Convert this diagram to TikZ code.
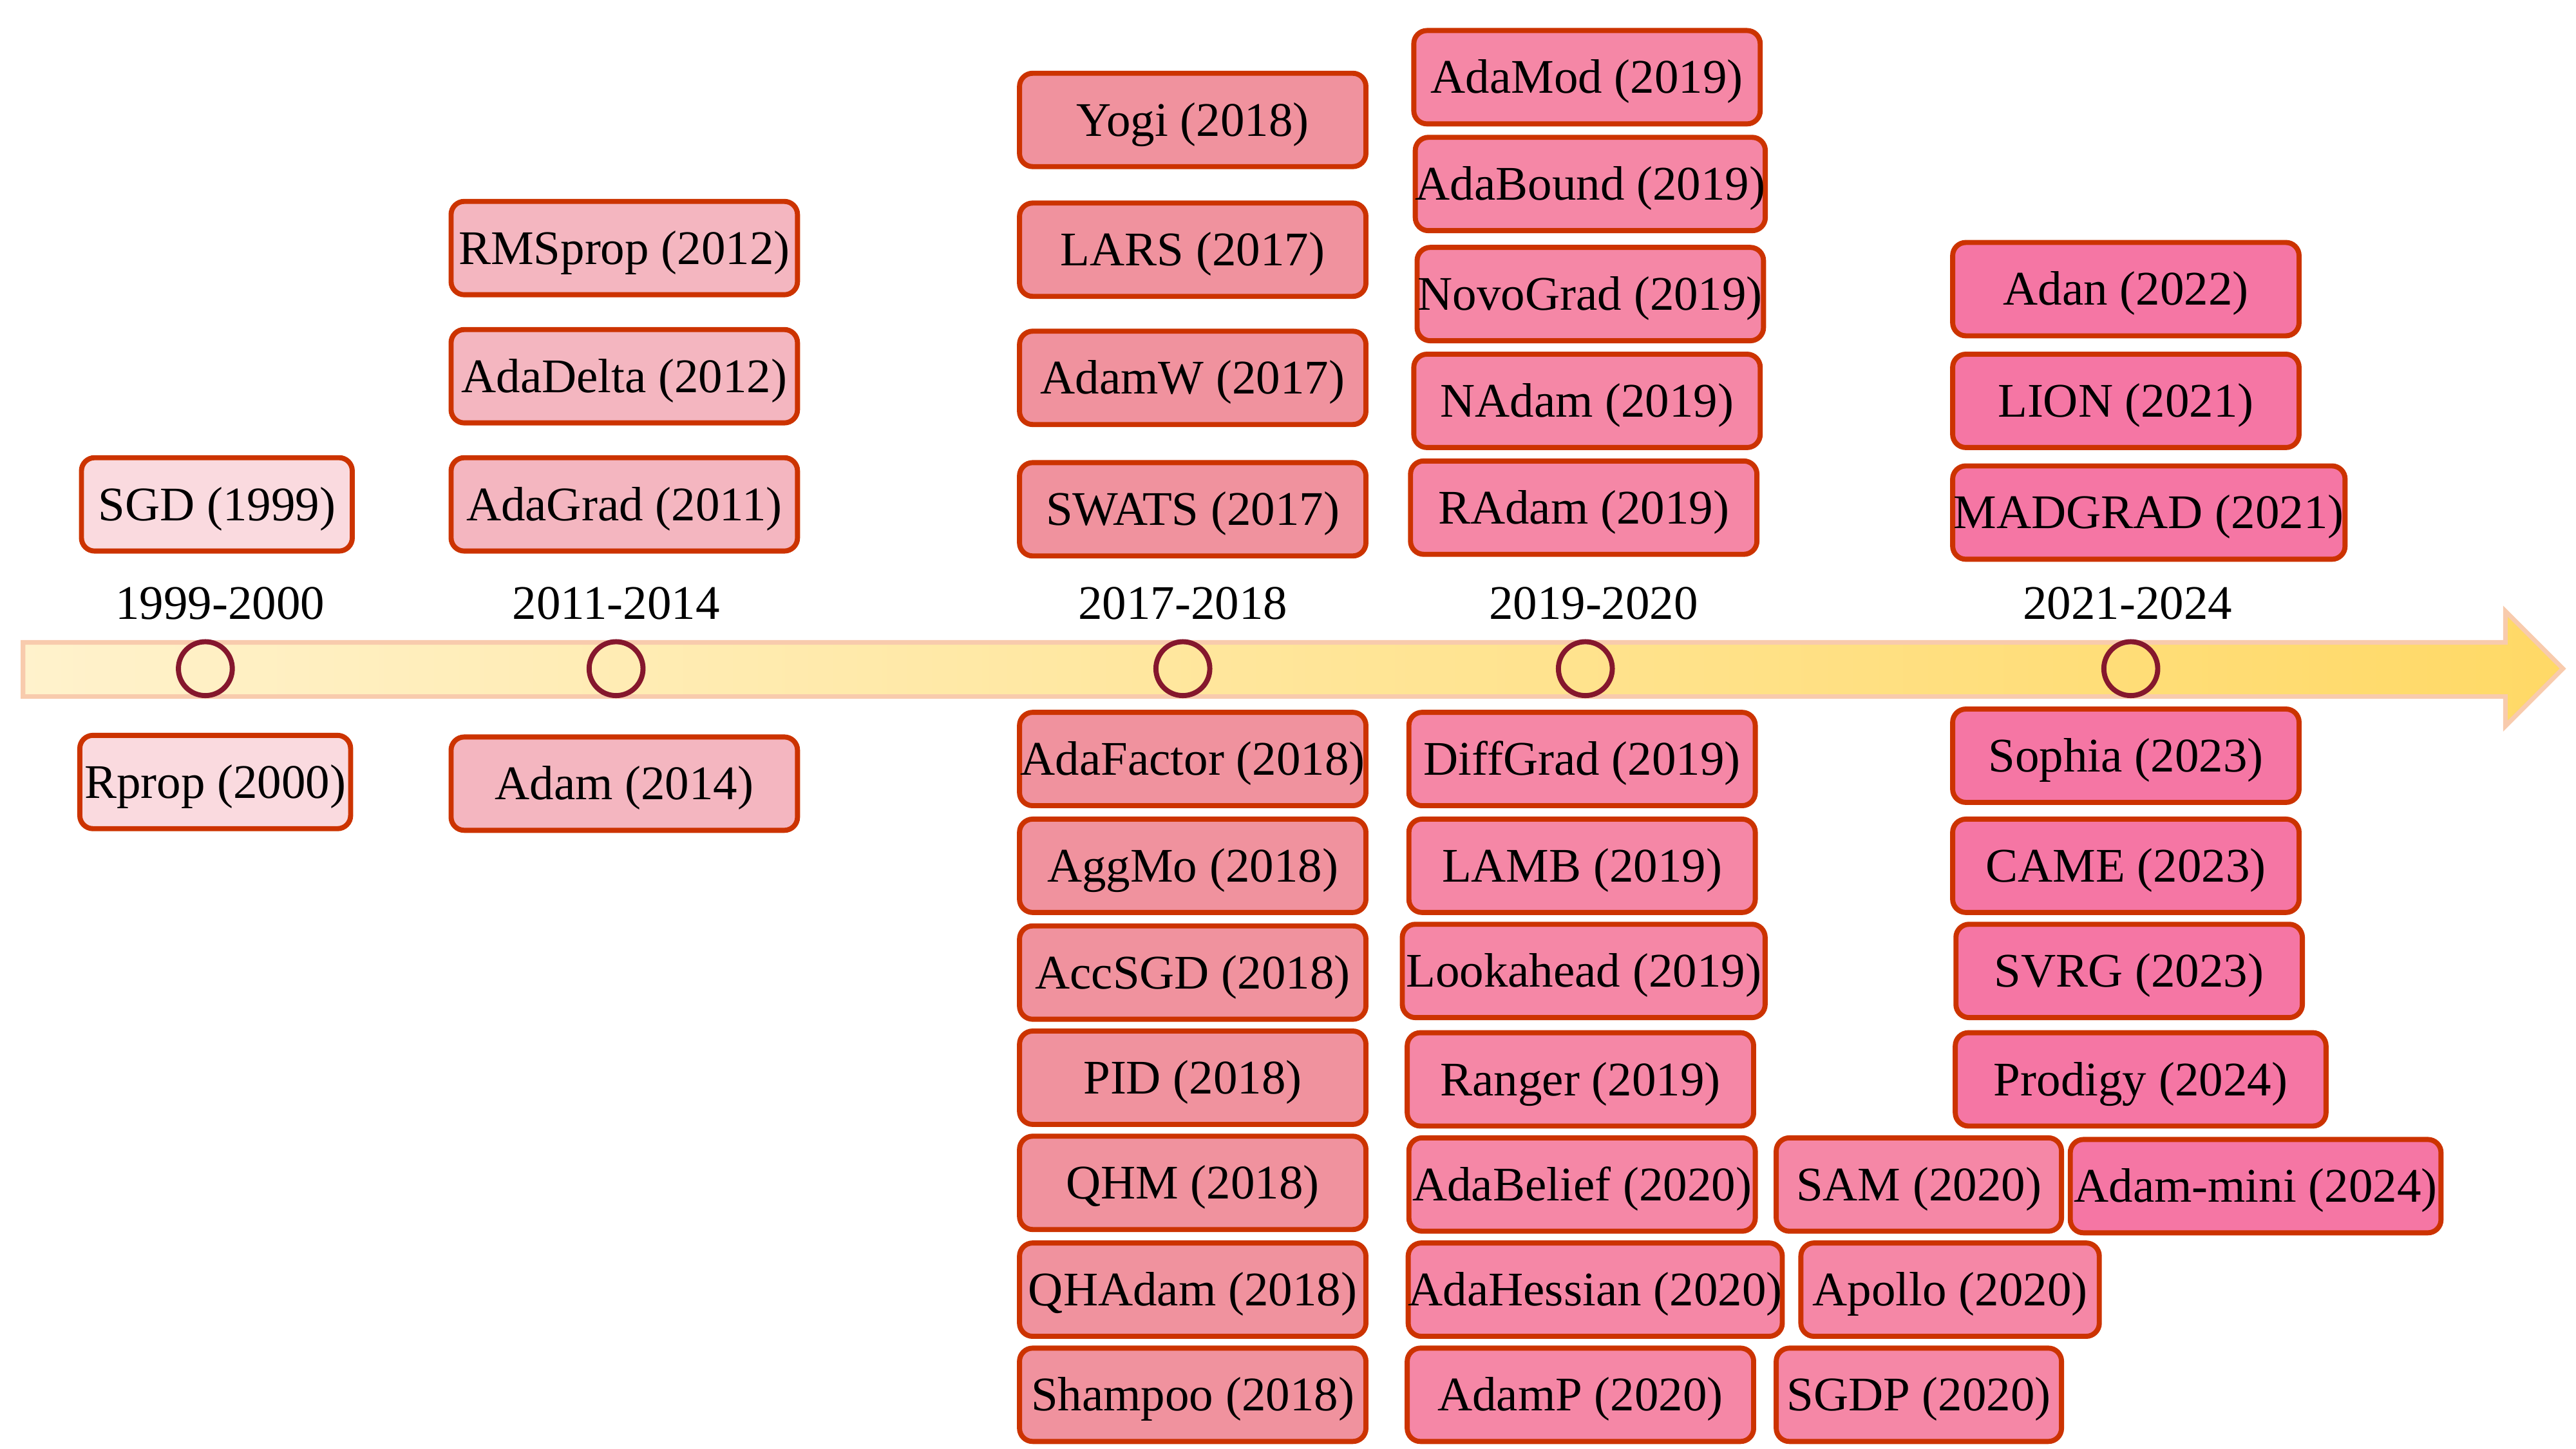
\documentclass[tikz,border=0pt]{standalone}
\usepackage{fontspec}
\setmainfont{Liberation Serif}
\definecolor{bd}{HTML}{CC3300}
\definecolor{cA}{HTML}{FADADF}
\definecolor{cB}{HTML}{F4B6C0}
\definecolor{cC}{HTML}{F0929E}
\definecolor{cD}{HTML}{F587A6}
\definecolor{cE}{HTML}{F576A4}
\definecolor{ring}{HTML}{85172D}
\definecolor{barL}{HTML}{FFF2CC}
\definecolor{barR}{HTML}{FFD966}
\definecolor{barB}{HTML}{F8CBAD}
\begin{document}
\begin{tikzpicture}[x=0.025cm,y=-0.025cm,
 opt/.style={draw=bd, line width=2.2pt, rounded corners=0.2cm, minimum height=1.42cm, inner sep=0pt, text height=0.49cm, text depth=0pt, font=\fontsize{20.9}{25}\selectfont},
 wA/.style={minimum width=4.12cm},
 wB/.style={minimum width=5.27cm},
 yr/.style={font=\fontsize{20.9}{25}\selectfont, inner sep=0pt, text height=0.49cm, text depth=0pt},
 ringnode/.style={circle, draw=ring, line width=2.2pt, minimum size=0.82cm, inner sep=0pt}]
\useasboundingbox (0,0) rectangle (1568,882);
% timeline arrow
\shadedraw[left color=barL, right color=barR, draw=barB, line width=2pt]
  (14,391) -- (1525,391) -- (1525,372) -- (1560,407) -- (1525,442) -- (1525,424) -- (14,424) -- cycle;
% rings
\node[ringnode] (r1) at (125,407) {};
\node[ringnode] (r2) at (375,407) {};
\node[ringnode] (r3) at (720,407) {};
\node[ringnode] (r4) at (965,407) {};
\node[ringnode] (r5) at (1297,407) {};
% year labels
\node[yr] (y1) at (134,367) {1999-2000};
\node[yr] (y2) at (375,367) {2011-2014};
\node[yr] (y3) at (720,367) {2017-2018};
\node[yr] (y4) at (970,367) {2019-2020};
\node[yr] (y5) at (1295,367) {2021-2024};
% column 1
\node[opt,wA,fill=cA] (sgd) at (132,307) {SGD (1999)};
\node[opt,wA,fill=cA] (rprop) at (131,476) {Rprop (2000)};
% column 2
\node[opt,wB,fill=cB] (rms) at (380,151) {RMSprop (2012)};
\node[opt,wB,fill=cB] (adadelta) at (380,229) {AdaDelta (2012)};
\node[opt,wB,fill=cB] (adagrad) at (380,307) {AdaGrad (2011)};
\node[opt,wB,fill=cB] (adam) at (380,477) {Adam (2014)};
% column 3
\node[opt,wB,fill=cC] (yogi) at (726,73) {Yogi (2018)};
\node[opt,wB,fill=cC] (lars) at (726,152) {LARS (2017)};
\node[opt,wB,fill=cC] (adamw) at (726,230) {AdamW (2017)};
\node[opt,wB,fill=cC] (swats) at (726,310) {SWATS (2017)};
\node[opt,wB,fill=cC] (adafactor) at (726,462) {AdaFactor (2018)};
\node[opt,wB,fill=cC] (aggmo) at (726,527) {AggMo (2018)};
\node[opt,wB,fill=cC] (accsgd) at (726,592) {AccSGD (2018)};
\node[opt,wB,fill=cC] (pid) at (726,656) {PID (2018)};
\node[opt,wB,fill=cC] (qhm) at (726,720) {QHM (2018)};
\node[opt,wB,fill=cC] (qhadam) at (726,785) {QHAdam (2018)};
\node[opt,wB,fill=cC] (shampoo) at (726,849) {Shampoo (2018)};
% column 4
\node[opt,wB,fill=cD] (adamod) at (966,47) {AdaMod (2019)};
\node[opt,wB,fill=cD] (adabound) at (968,112) {AdaBound (2019)};
\node[opt,wB,fill=cD] (novograd) at (968,179) {NovoGrad (2019)};
\node[opt,wB,fill=cD] (nadam) at (966,244) {NAdam (2019)};
\node[opt,wB,fill=cD] (radam) at (964,309) {RAdam (2019)};
\node[opt,wB,fill=cD] (diffgrad) at (963,462) {DiffGrad (2019)};
\node[opt,wB,fill=cD] (lamb) at (963,527) {LAMB (2019)};
\node[opt,fill=cD,minimum width=5.52cm] (lookahead) at (964,591) {Lookahead (2019)};
\node[opt,wB,fill=cD] (ranger) at (962,657) {Ranger (2019)};
\node[opt,wB,fill=cD] (adabelief) at (963,721) {AdaBelief (2020)};
\node[opt,fill=cD,minimum width=5.69cm] (adahessian) at (971,785) {AdaHessian (2020)};
\node[opt,wB,fill=cD] (adamp) at (962,849) {AdamP (2020)};
% column 5
\node[opt,fill=cD,minimum width=4.34cm] (sam) at (1168,721) {SAM (2020)};
\node[opt,fill=cD,minimum width=4.54cm] (apollo) at (1187,785) {Apollo (2020)};
\node[opt,fill=cD,minimum width=4.34cm] (sgdp) at (1168,849) {SGDP (2020)};
% column 6
\node[opt,wB,fill=cE] (adan) at (1294,176) {Adan (2022)};
\node[opt,wB,fill=cE] (lion) at (1294,244) {LION (2021)};
\node[opt,fill=cE,minimum width=5.97cm] (madgrad) at (1308,312) {MADGRAD (2021)};
\node[opt,wB,fill=cE] (sophia) at (1294,460) {Sophia (2023)};
\node[opt,wB,fill=cE] (came) at (1294,527) {CAME (2023)};
\node[opt,wB,fill=cE] (svrg) at (1296,591) {SVRG (2023)};
\node[opt,fill=cE,minimum width=5.64cm] (prodigy) at (1303,657) {Prodigy (2024)};
\node[opt,fill=cE,minimum width=5.64cm] (adammini) at (1373,722) {Adam-mini (2024)};
\end{tikzpicture}
\end{document}
